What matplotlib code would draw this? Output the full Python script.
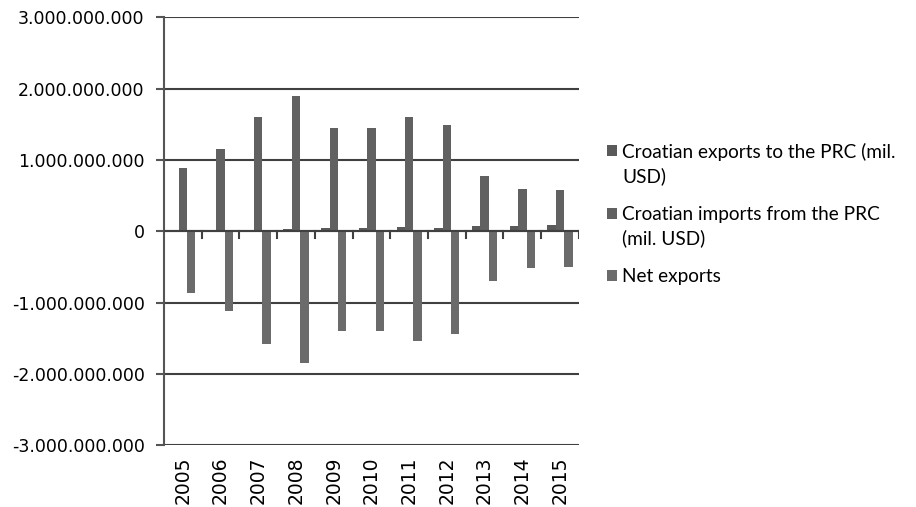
import numpy as np
import matplotlib
matplotlib.use('Agg')
import matplotlib.pyplot as plt
from matplotlib.ticker import FuncFormatter
from matplotlib.patches import Rectangle
from matplotlib.legend_handler import HandlerPatch

years = ['2005', '2006', '2007', '2008', '2009', '2010',
         '2011', '2012', '2013', '2014', '2015']
exports = [10e6, 15e6, 20e6, 35e6, 45e6, 40e6, 60e6, 45e6, 75e6, 70e6, 80e6]
imports = [880e6, 1146e6, 1603e6, 1893e6, 1445e6, 1445e6, 1603e6, 1496e6,
           776e6, 585e6, 580e6]
net_exports = [-865e6, -1125e6, -1585e6, -1855e6, -1395e6, -1400e6,
               -1545e6, -1445e6, -700e6, -515e6, -505e6]

labels = ['Croatian exports to the PRC (mil.\nUSD)',
          'Croatian imports from the PRC\n(mil. USD)',
          'Net exports']
colors = ['#5a5a5a', '#616161', '#6b6b6b']

LEG_SIZE = 13.7
LINE_SP = 1.42


class TopSquare(HandlerPatch):
    # put the square next to the first line of a wrapped label
    def create_artists(self, legend, orig_handle, xdescent, ydescent,
                       width, height, fontsize, trans):
        n = orig_handle.get_label().count('\n')
        shift = n * fontsize * LINE_SP * 0.5
        p = Rectangle((-xdescent, -ydescent + shift), width, height,
                      facecolor=orig_handle.get_facecolor(), edgecolor='none')
        p.set_transform(trans)
        return [p]


fig = plt.figure(figsize=(9.16, 5.07), dpi=100)
ax = fig.add_axes([0.179, 0.122, 0.453, 0.844])

x = np.arange(len(years))
w = 1 / 4.5
series = [exports, imports, net_exports]
bars = []
for i, vals in enumerate(series):
    b = ax.bar(x + (i - 1) * w, vals, width=w, color=colors[i], label=labels[i], zorder=3)
    bars.append(b)

ax.set_xlim(-0.5, len(years) - 0.5)
ax.set_ylim(-3e9, 3e9)
ax.set_yticks(np.arange(-3e9, 3.01e9, 1e9))
ax.yaxis.set_major_formatter(FuncFormatter(lambda v, p: '{:,.0f}'.format(v).replace(',', '.')))
ax.grid(axis='y', color='#404040', linewidth=1.5, zorder=1)
ax.set_axisbelow(True)

for s in ['top', 'right', 'bottom']:
    ax.spines[s].set_visible(False)
ax.spines['left'].set_color('#555555')
ax.spines['left'].set_linewidth(1.5)

ax.tick_params(axis='y', length=6, width=1.5, color='#555555', labelsize=12.5, pad=8)
ax.set_xticks(x)
ax.set_xticklabels(years, rotation=90, fontsize=13.5)
ax.tick_params(axis='x', length=0, pad=8)

# zero line with category separators
ax.axhline(0, color='#404040', linewidth=1.5, zorder=4)
for b in np.arange(0.5, len(years), 1.0):
    ax.plot([b, b], [0, -0.09e9], color='#404040', linewidth=1.5, zorder=4)

handles = [b.patches[0] for b in bars]
for h, lab in zip(handles, labels):
    h.set_label(lab)
leg = fig.legend(handles, labels, loc='upper left', bbox_to_anchor=(607 / 916, 1 - 143 / 507),
                 frameon=False, borderpad=0, borderaxespad=0,
                 prop={'family': 'Lato', 'size': LEG_SIZE}, handlelength=0.5,
                 handleheight=0.5, handletextpad=0.3, labelspacing=1.1,
                 handler_map={Rectangle: TopSquare()})
for t in leg.get_texts():
    t.set_linespacing(LINE_SP)

fig.savefig('out.png', dpi=100)
